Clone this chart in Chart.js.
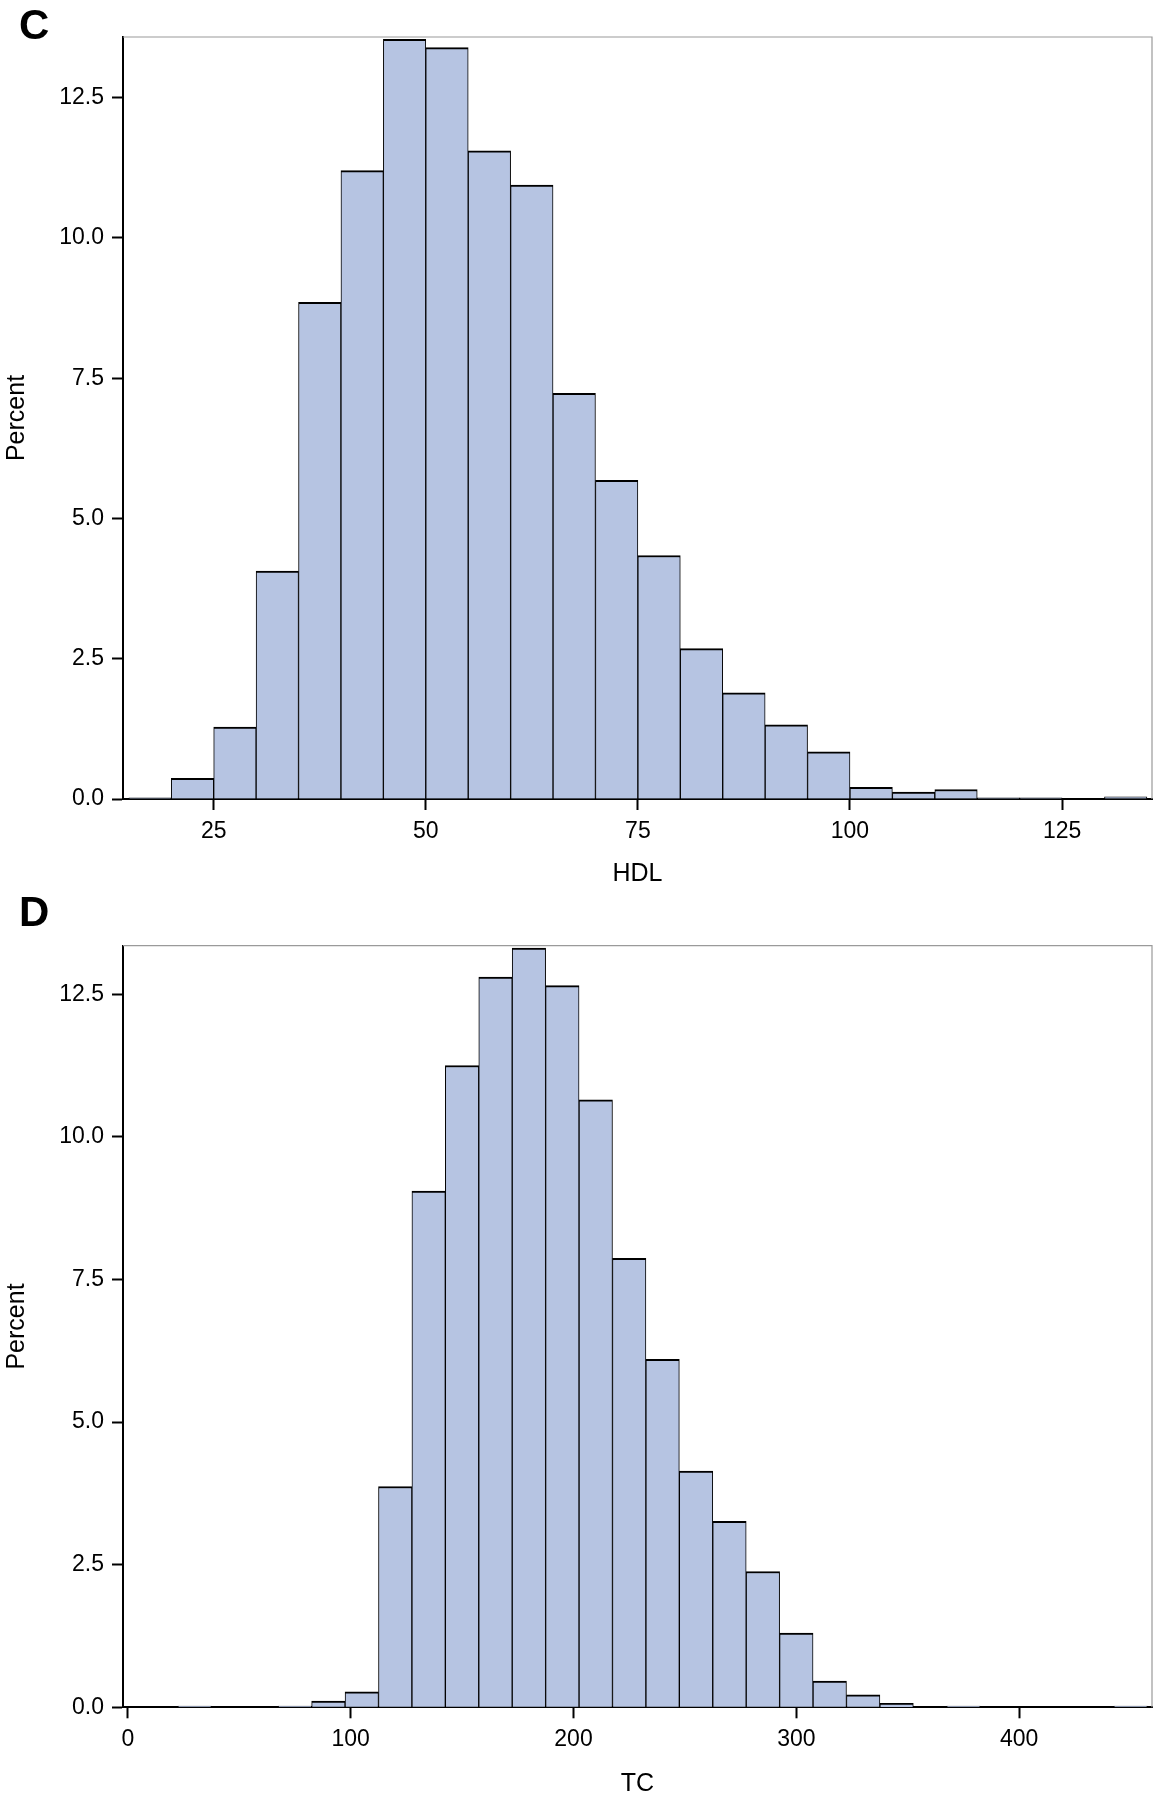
<!DOCTYPE html>
<html lang="en">
<head>
<meta charset="utf-8">
<title>HDL / TC</title>
<script src="https://cdn.jsdelivr.net/npm/chart.js@4.4.1/dist/chart.umd.min.js"></script>
<style>
    body { margin: 0; background: #fff; }
    .panel { position: relative; width: 1160px; height: 900px; }
    .panel canvas { display: block; }
    .letra { position: absolute; left: 19px; font: bold 42px "Liberation Sans", Arial, sans-serif; line-height: 42px; color: #000; }
</style>
</head>
<body>
<div class="panel"><div class="letra" style="top:4px">C</div><canvas id="graficoHDL" width="1160" height="900"></canvas></div>
<div class="panel"><div class="letra" style="top:-9px">D</div><canvas id="graficoTC" width="1160" height="900"></canvas></div>

<script>
// Panel C: HDL, clases de 5
const hdlCentros = [17.5, 22.5, 27.5, 32.5, 37.5, 42.5, 47.5, 52.5, 57.5, 62.5, 67.5, 72.5,
    77.5, 82.5, 87.5, 92.5, 97.5, 102.5, 107.5, 112.5, 117.5, 122.5, 127.5, 132.5];
const hdlPorcentaje = [0.02, 0.37, 1.28, 4.06, 8.85, 11.2, 13.54, 13.39, 11.55, 10.94, 7.23, 5.68,
    4.34, 2.68, 1.89, 1.32, 0.84, 0.21, 0.125, 0.17, 0.02, 0.02, 0, 0.04];
const hdlTicksX = [25, 50, 75, 100, 125];

// Panel D: TC, clases de 15
const tcCentros = [30, 45, 60, 75, 90, 105, 120, 135, 150, 165, 180, 195, 210, 225, 240,
    255, 270, 285, 300, 315, 330, 345, 360, 375, 390, 405, 420, 435, 450];
const tcPorcentaje = [0.02, 0, 0, 0.02, 0.11, 0.27, 3.87, 9.05, 11.25, 12.8, 13.31, 12.65, 10.65, 7.87, 6.1,
    4.14, 3.26, 2.38, 1.3, 0.46, 0.22, 0.07, 0, 0.02, 0, 0, 0, 0, 0.02];
const tcTicksX = [0, 100, 200, 300, 400];

const ticksY = [0, 2.5, 5, 7.5, 10, 12.5];

const fuente = "'Liberation Sans', Arial, sans-serif";
const colorTexto = '#000';

// borde gris arriba y a la derecha del area del grafico
const marcoGris = {
    id: 'marcoGris',
    afterDatasetsDraw(chart) {
        const { ctx, chartArea } = chart;
        ctx.save();
        ctx.strokeStyle = '#9a9a9a';
        ctx.lineWidth = 1.2;
        ctx.beginPath();
        ctx.moveTo(chartArea.left, chartArea.top);
        ctx.lineTo(chartArea.right, chartArea.top);
        ctx.lineTo(chartArea.right, chartArea.bottom);
        ctx.stroke();
        ctx.restore();
    }
};

const generarHistograma = (idCanvas, centros, porcentajes, ticksX, minX, maxX, maxY, tituloX, ajustes) => {

    const data = {
        datasets: [
            {
                label: 'Percent',
                data: centros.map((c, i) => ({ x: c, y: porcentajes[i] })),
                backgroundColor: '#b6c4e2',
                borderColor: '#000',
                // lados de 1 px: dos barras vecinas suman 2 px, igual que el borde de arriba
                borderWidth: { top: 2, right: 1, bottom: 0, left: 1 },
                barPercentage: 1,
                categoryPercentage: 1,
            }
        ]
    };

    const config = {
        type: 'bar',
        data: data,
        options: {
            responsive: false,
            animation: false,
            layout: {
                padding: { top: ajustes.arriba, right: 8, bottom: 0, left: 0 }
            },
            plugins: {
                legend: { display: false },
                tooltip: { enabled: false }
            },
            scales: {
                x: {
                    type: 'linear',
                    min: minX,
                    max: maxX,
                    bounds: 'data',
                    offset: false,
                    afterBuildTicks: eje => { eje.ticks = ticksX.map(v => ({ value: v })); },
                    afterFit: eje => { eje.height = ajustes.altoEjeX; },
                    grid: {
                        offset: false,
                        drawOnChartArea: false,
                        tickLength: 11,
                        tickWidth: 2,
                        tickColor: '#000'
                    },
                    border: { color: '#000', width: 2 },
                    ticks: {
                        color: colorTexto,
                        font: { family: fuente, size: 23 },
                        padding: 8,
                        maxRotation: 0
                    },
                    title: {
                        display: true,
                        text: tituloX,
                        color: colorTexto,
                        font: { family: fuente, size: 25 },
                        padding: { top: 0, bottom: ajustes.tituloAbajo }
                    }
                },
                y: {
                    min: 0,
                    max: maxY,
                    bounds: 'data',
                    afterBuildTicks: eje => { eje.ticks = ticksY.map(v => ({ value: v })); },
                    afterFit: eje => { eje.width = 123; },
                    grid: {
                        drawOnChartArea: false,
                        tickLength: 11,
                        tickWidth: 2,
                        tickColor: '#000'
                    },
                    border: { color: '#000', width: 2 },
                    ticks: {
                        color: colorTexto,
                        font: { family: fuente, size: 23 },
                        padding: 8,
                        callback: v => v.toFixed(1)
                    },
                    title: {
                        display: true,
                        text: 'Percent',
                        color: colorTexto,
                        font: { family: fuente, size: 25 },
                        padding: { top: 2, bottom: 0 }
                    }
                }
            }
        },
        plugins: [marcoGris]
    };

    new Chart(document.getElementById(idCanvas), config);
};

generarHistograma('graficoHDL', hdlCentros, hdlPorcentaje, hdlTicksX, 14.31, 135.6, 13.58, 'HDL',
    { arriba: 37, altoEjeX: 101, tituloAbajo: 10.4 });
generarHistograma('graficoTC', tcCentros, tcPorcentaje, tcTicksX, -2.15, 459.6, 13.35, 'TC',
    { arriba: 45.7, altoEjeX: 92.7, tituloAbajo: 0.4 });
</script>
</body>
</html>
